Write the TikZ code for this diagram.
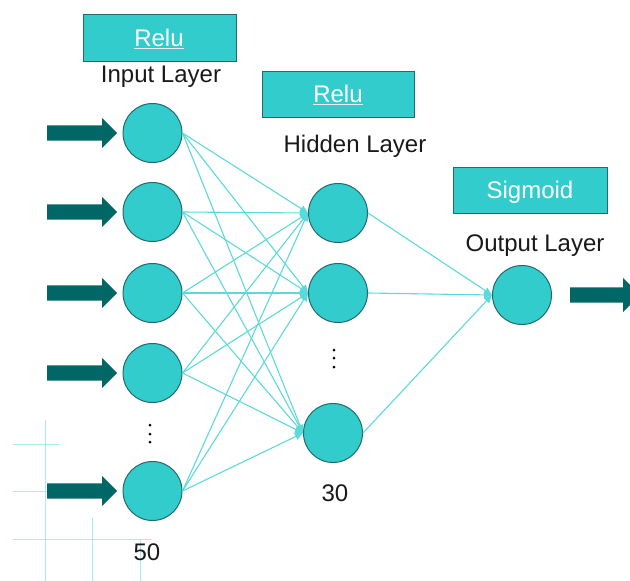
\documentclass[tikz,border=0pt]{standalone}
\usepackage{fontspec}
\setmainfont{Liberation Sans}
\usetikzlibrary{shapes.arrows,arrows.meta}
\definecolor{teal1}{HTML}{33CCCC}
\definecolor{tealdark}{HTML}{006666}
\definecolor{rim}{HTML}{236B6B}
\definecolor{wire}{HTML}{5CDADA}
\definecolor{gridc}{HTML}{A8EEEE}
\begin{document}
\begin{tikzpicture}[x=1pt,y=-1pt,
 neuron/.style={circle, fill=teal1, draw=rim, line width=1pt, minimum size=59pt, inner sep=0pt},
 actbox/.style={fill=teal1, draw=rim, line width=0.8pt},
 lbl/.style={font=\fontsize{24}{28}\selectfont, text=black!90, inner sep=0pt, anchor=base},
 boxlbl/.style={lbl, text=white},
 wirec/.style={draw=wire, line width=1.1pt, -{Triangle[length=8pt,width=7pt]}},
 fatarrow/.style={single arrow, fill=tealdark, draw=none, minimum height=70pt, inner xsep=0pt, inner ysep=7.5pt, single arrow head extend=7.5pt},
 gridl/.style={draw=gridc, line width=0.9pt},
 dotc/.style={circle, fill=black, inner sep=0pt, minimum size=3pt}]
\useasboundingbox (0,0) rectangle (630,581);
% background grid lines
\draw[gridl] (45,420) -- (45,581);
\draw[gridl] (13,444) -- (59,444);
\draw[gridl] (13,491) -- (55,491);
\draw[gridl] (13,539) -- (152,539);
\draw[gridl] (92,518) -- (92,581);
\draw[gridl] (140,539) -- (140,581);
% activation boxes
\draw[actbox] (83,14) rectangle (236,61);
\draw[actbox] (262,71) rectangle (414,117);
\draw[actbox] (453,167) rectangle (607,213);
\node[boxlbl] (r1) at (159,46) {Relu};
\node[boxlbl] (r2) at (338,102) {Relu};
\node[boxlbl] (sg) at (530,198) {Sigmoid};
\draw[white!85!gray, line width=0.8pt] ([yshift=-2.5]r1.base west) -- ([yshift=-2.5]r1.base east);
\draw[white!85!gray, line width=0.8pt] ([yshift=-2.5]r2.base west) -- ([yshift=-2.5]r2.base east);
% layer titles
\node[lbl] (tin) at (161,82) {Input Layer};
\node[lbl] (thid) at (355,152) {Hidden Layer};
\node[lbl] (tout) at (535,251) {Output Layer};
% neurons
\node[neuron] (i1) at (152.5,133) {};
\node[neuron] (i2) at (152.5,212) {};
\node[neuron] (i3) at (152.5,293) {};
\node[neuron] (i4) at (152.5,373) {};
\node[neuron] (i5) at (152.5,491) {};
\node[neuron] (h1) at (338,213) {};
\node[neuron] (h2) at (338,293) {};
\node[neuron] (h3) at (333,433) {};
\node[neuron] (o) at (522,295) {};
% connections
\foreach \i in {1,...,5}
  \foreach \j in {1,2,3}
    \draw[wirec] (i\i.east) -- (h\j.west);
\foreach \j in {1,2,3}
  \draw[wirec] (h\j.east) -- (o.west);
% input arrows
\foreach \i in {1,...,5}
  \node[fatarrow, anchor=tip] (a\i) at ([xshift=-5pt]i\i.west) {};
\node[fatarrow, single arrow head extend=9.5pt, anchor=tail] (aout) at ([xshift=18pt]o.east) {};
% ellipses
\node[dotc] (d1) at (150,425) {};
\node[dotc] (d2) at (150,434) {};
\node[dotc] (d3) at (150,442) {};
\node[dotc] (e1) at (334,350) {};
\node[dotc] (e2) at (334,358) {};
\node[dotc] (e3) at (334,367) {};
% counts
\node[lbl] (n30) at (335,501) {30};
\node[lbl] (n50) at (147,560) {50};
\end{tikzpicture}
\end{document}
